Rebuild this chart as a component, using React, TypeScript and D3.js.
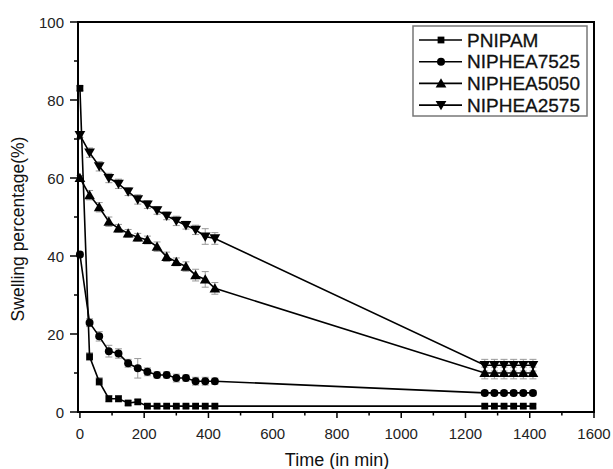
import React from "react";
import * as d3 from "d3";

const times = [0, 30, 60, 90, 120, 150, 180, 210, 240, 270, 300, 330, 360, 390, 420, 1260, 1290, 1320, 1350, 1380, 1410];

const pnipam = [83, 14.2, 7.8, 3.4, 3.4, 2.3, 2.6, 1.5, 1.5, 1.5, 1.5, 1.5, 1.5, 1.5, 1.5, 1.5, 1.5, 1.5, 1.5, 1.5, 1.5];
const pnipamErr = [0.6, 1, 1, 0.8, 0.8, 0.6, 0.6, 0.5, 0.5, 0.5, 0.5, 0.5, 0.5, 0.5, 0.5, 0.5, 0.5, 0.5, 0.5, 0.5, 0.5];

const n7525 = [40.4, 22.9, 19.4, 15.6, 15.0, 12.5, 11.2, 10.3, 9.5, 9.5, 8.7, 8.7, 7.9, 7.9, 7.9, 4.9, 4.9, 4.9, 4.9, 4.9, 4.9];
const n7525Err = [0.6, 1, 1.2, 1.5, 1.2, 1, 2.5, 1, 0.8, 0.8, 1, 0.8, 1, 1, 0.8, 0.6, 0.6, 0.6, 0.6, 0.6, 0.6];

const n5050 = [60, 55.6, 52.5, 48.8, 47.1, 45.8, 44.8, 44.1, 42.4, 39.8, 38.5, 37.3, 35.1, 34.0, 31.7, 10, 10, 10, 10, 10, 10];
const n5050Err = [0.6, 1.2, 1.2, 1.2, 1, 1, 1, 1, 1.2, 1.2, 1, 1.2, 1.5, 2, 1.5, 1.5, 1.5, 1.5, 1.5, 1.5, 1.5];

const n2575 = [71, 66.5, 63, 60, 58.5, 56.5, 54.5, 53.2, 51.7, 50.3, 49, 47.9, 46.7, 45, 44.5, 12, 12, 12, 12, 12, 12];
const n2575Err = [0.6, 1.2, 1.2, 1.2, 1.2, 1, 1.2, 1, 1, 1, 1.2, 1, 1.2, 2, 1.5, 1.5, 1.5, 1.5, 1.5, 1.5, 1.5];

const seriesNames = ["PNIPAM", "NIPHEA7525", "NIPHEA5050", "NIPHEA2575"];
const seriesValues = [pnipam, n7525, n5050, n2575];
const seriesErrors = [pnipamErr, n7525Err, n5050Err, n2575Err];
const seriesSymbols = [d3.symbolSquare, d3.symbolCircle, d3.symbolTriangle, d3.symbolTriangle];

const xTicks = [0, 200, 400, 600, 800, 1000, 1200, 1400, 1600];
const yTicks = [0, 20, 40, 60, 80, 100];

const FONT = "'Liberation Sans', Arial, Helvetica, sans-serif";

export default function App() {
  const W = 613, H = 469;
  const x = d3.scaleLinear().domain([-6, 1600]).range([78, 594]);
  const y = d3.scaleLinear().domain([0, 100]).range([412, 22]);
  const left = 78, right = 594, top = 22, bottom = 412;

  const line = d3.line<number>().x((_, i) => x(times[i])).y((v) => y(v));

  const symSizes = [46, 50, 50, 50];

  const marker = (si: number, cx: number, cy: number, key: string) => {
    const p = d3.symbol().type(seriesSymbols[si]).size(symSizes[si])()!;
    const rot = si === 3 ? 180 : 0;
    const dy = si === 2 ? 1 : si === 3 ? -1 : 0;
    return <path key={key} d={p} transform={`translate(${cx},${cy + dy}) rotate(${rot})`} fill="#000" />;
  };

  const minorX = d3.range(100, 1600, 200);
  const minorY = d3.range(10, 100, 20);

  return (
    <svg width={W} height={H} style={{ position: "absolute", left: 0, top: 0, background: "#fff" }} fontFamily={FONT}>
      <rect x={0} y={0} width={W} height={H} fill="#fff" />
      {/* error bars */}
      {seriesValues.map((vals, si) =>
        vals.map((v, i) => {
          const e = seriesErrors[si][i];
          const cx = x(times[i]);
          return (
            <g key={`e${si}-${i}`} stroke="#999" strokeWidth={1}>
              <line x1={cx} x2={cx} y1={y(v + e)} y2={y(v - e)} />
              <line x1={cx - 3.5} x2={cx + 3.5} y1={y(v + e)} y2={y(v + e)} />
              <line x1={cx - 3.5} x2={cx + 3.5} y1={y(v - e)} y2={y(v - e)} />
            </g>
          );
        })
      )}
      {/* lines */}
      {seriesValues.map((vals, si) => (
        <path key={`l${si}`} d={line(vals)!} fill="none" stroke="#000" strokeWidth={1.6} />
      ))}
      {/* markers */}
      {seriesValues.map((vals, si) => vals.map((v, i) => marker(si, x(times[i]), y(v), `m${si}-${i}`)))}
      {/* frame */}
      <rect x={left} y={top} width={right - left} height={bottom - top} fill="none" stroke="#000" strokeWidth={2} />
      {/* x ticks */}
      {xTicks.map((t) => (
        <g key={`xt${t}`}>
          <line x1={x(t)} x2={x(t)} y1={bottom} y2={bottom + 6} stroke="#000" strokeWidth={1.5} />
          <text x={x(t)} y={bottom + 27} textAnchor="middle" fontSize={15} fill="#222">{t}</text>
        </g>
      ))}
      {minorX.map((t) => (
        <line key={`xm${t}`} x1={x(t)} x2={x(t)} y1={bottom} y2={bottom + 3.5} stroke="#000" strokeWidth={1.5} />
      ))}
      {/* y ticks */}
      {yTicks.map((t) => (
        <g key={`yt${t}`}>
          <line x1={left} x2={left - 8} y1={y(t)} y2={y(t)} stroke="#000" strokeWidth={1.5} />
          <text x={left - 14} y={y(t) + 5.5} textAnchor="end" fontSize={15} fill="#222">{t}</text>
        </g>
      ))}
      {minorY.map((t) => (
        <line key={`ym${t}`} x1={left} x2={left - 4} y1={y(t)} y2={y(t)} stroke="#000" strokeWidth={1.5} />
      ))}
      {/* axis titles */}
      <text x={337} y={466} textAnchor="middle" fontSize={18} fill="#111">Time (in min)</text>
      <text transform={`translate(24,229) rotate(-90)`} textAnchor="middle" fontSize={17.5} fill="#111">
        Swelling percentage(%)
      </text>
      {/* legend */}
      <rect x={413} y={26} width={174} height={90} fill="#fff" stroke="#777" strokeWidth={1.5} />
      {seriesNames.map((n, si) => {
        const ly = 40 + si * 21.7;
        return (
          <g key={`lg${si}`}>
            <line x1={419} x2={462} y1={ly} y2={ly} stroke="#000" strokeWidth={1.6} />
            {marker(si, 441, ly, `lgm${si}`)}
            <text x={467} y={ly + 6.5} fontSize={19} fill="#111" stroke="#111" strokeWidth={0.3}>{n}</text>
          </g>
        );
      })}
    </svg>
  );
}
